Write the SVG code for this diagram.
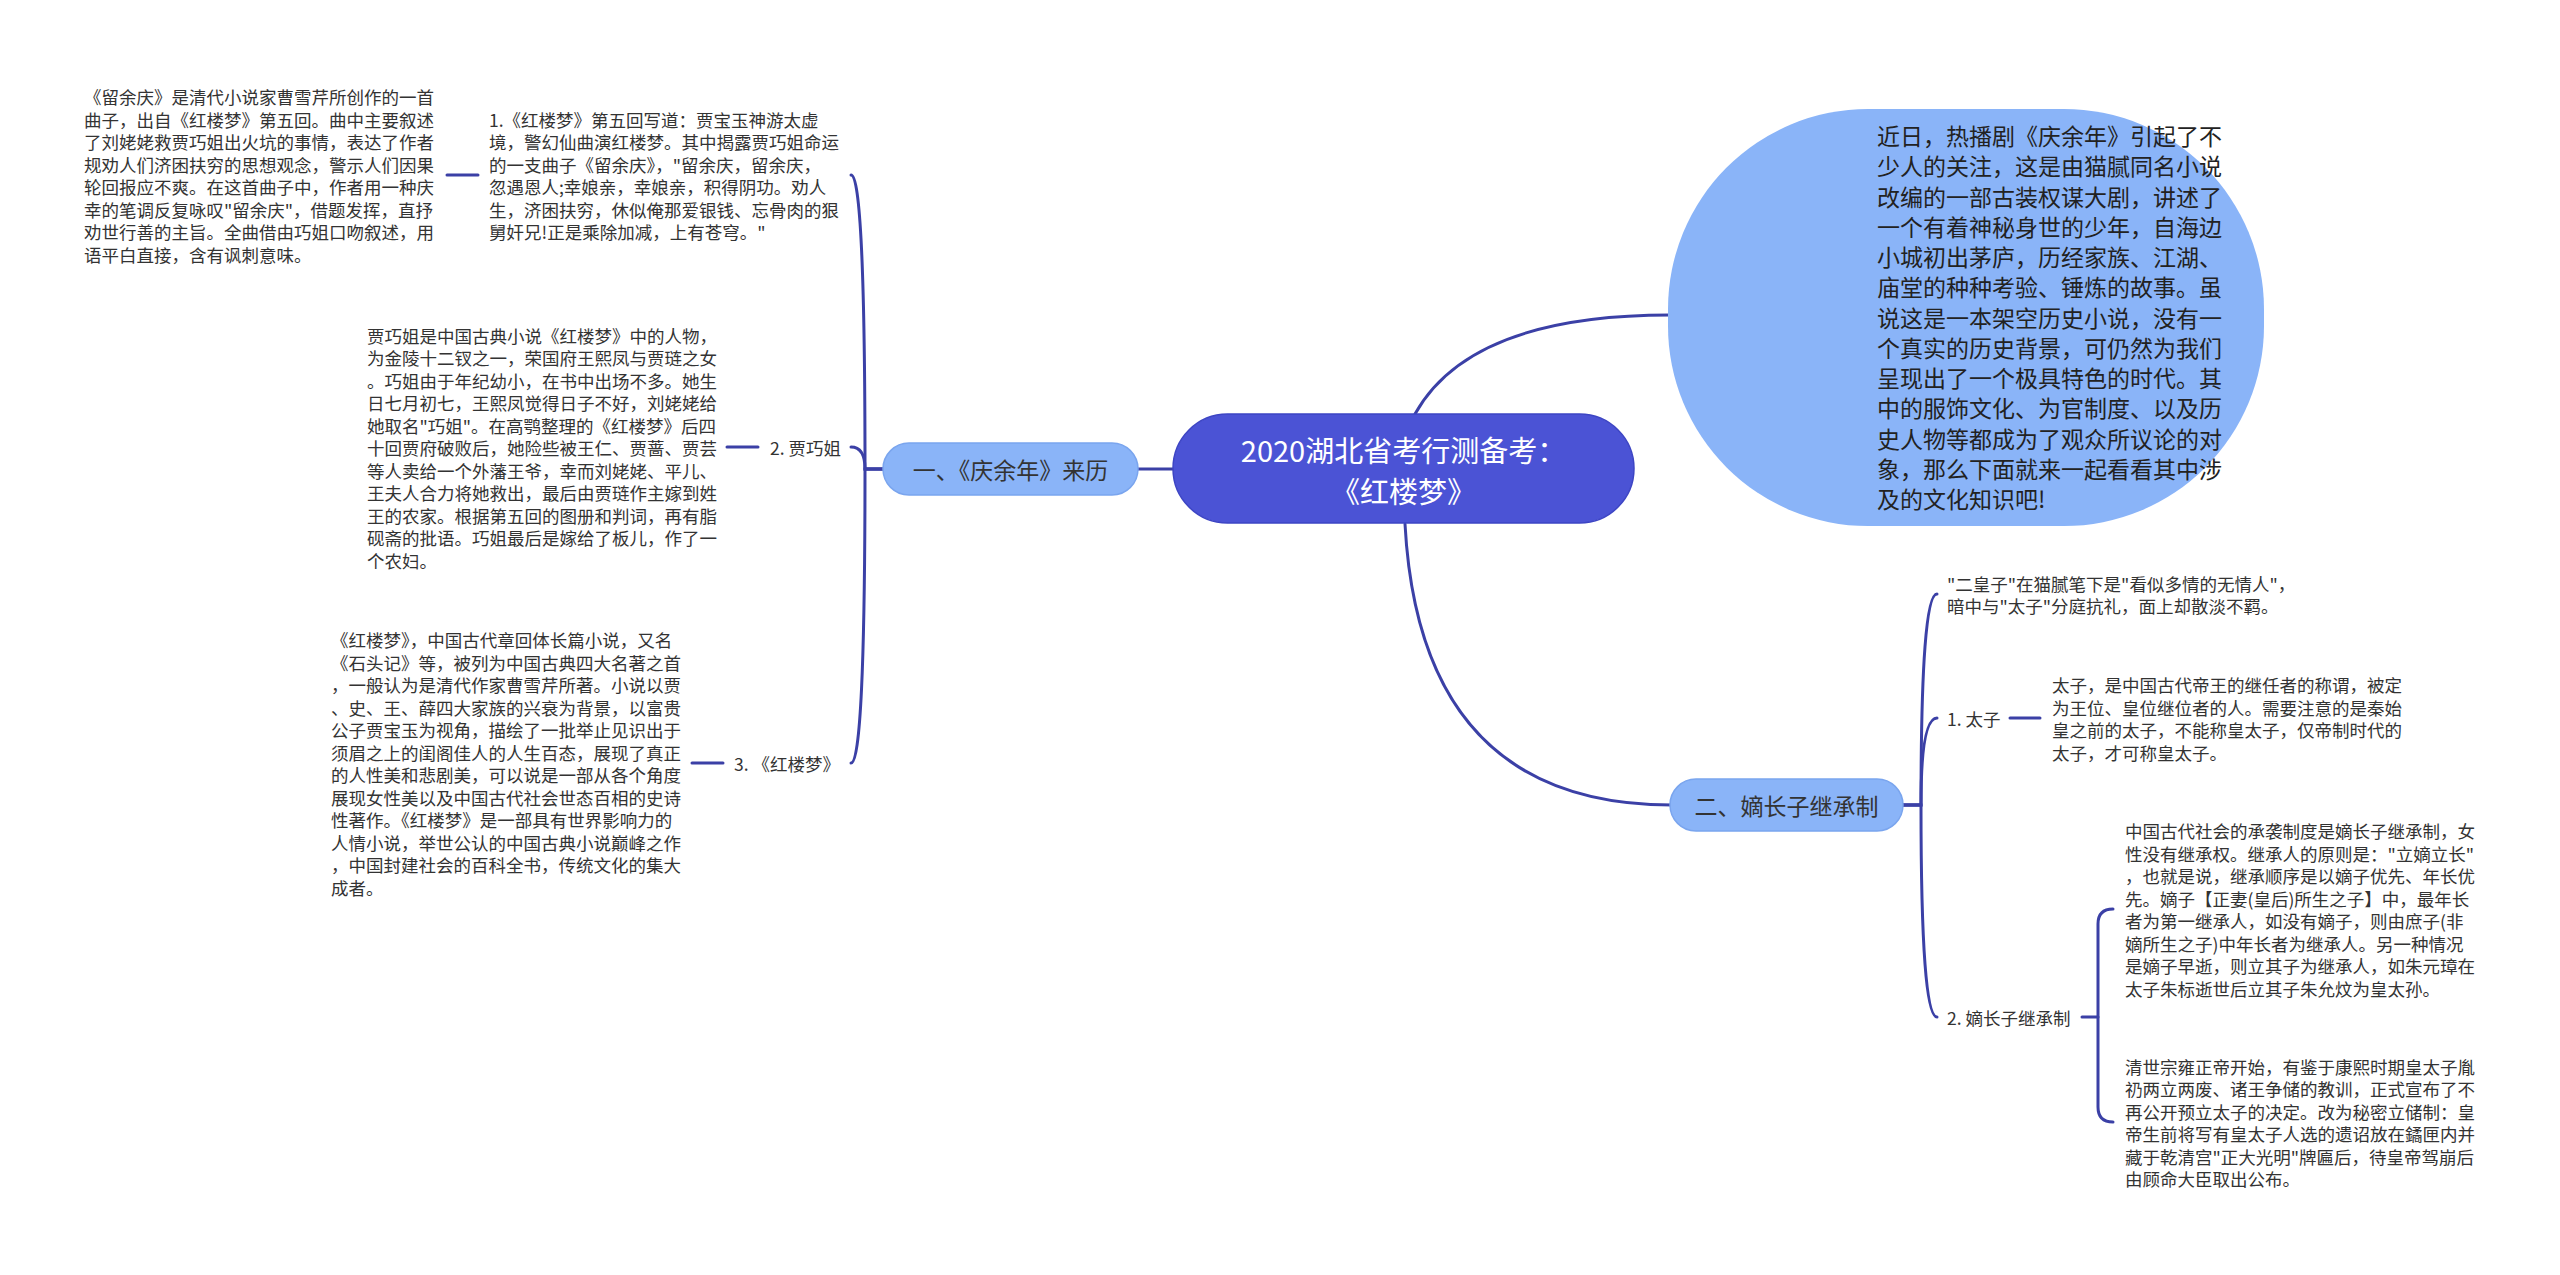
<svg xmlns="http://www.w3.org/2000/svg" width="2560" height="1275" viewBox="0 0 2560 1275">
<style>
text{font-family:"Noto Sans CJK SC","Liberation Sans",sans-serif;dominant-baseline:central;}
.d{font-size:17.5px;fill:#333;}
.root{fill:#4b53d5;stroke:#3d45c4;stroke-width:1.5;}
.rt{font-size:29px;fill:#fff;text-anchor:middle;}
.l1{fill:#8ab4f8;stroke:#7aa5ee;stroke-width:1.5;}
.l1t{font-size:23px;fill:#333;text-anchor:middle;}
.blob{fill:#8ab4f8;}
.bt{font-size:23px;fill:#222;}
.c{fill:none;stroke:#3b40a6;stroke-width:3;stroke-linecap:round;}
</style>
<rect width="2560" height="1275" fill="#fff"/>
<g id="connectors">
<path class="c" d="M1173 469 H1138"/>
<path class="c" d="M1415 414 Q1470 315 1670 315"/>
<path class="c" d="M1405 524 Q1420 805 1672 805"/>
<path class="c" d="M883 469 H865 Q865 175 851 175"/>
<path class="c" d="M883 469 H865 Q865 447 851 447"/>
<path class="c" d="M883 469 H865 Q865 763 851 763"/>
<path class="c" d="M447 175 H478"/>
<path class="c" d="M727 447 H758"/>
<path class="c" d="M692 763 H723"/>
<path class="c" d="M1903 805 H1921 Q1921 594 1937 594"/>
<path class="c" d="M1903 805 H1921 Q1921 718 1937 718"/>
<path class="c" d="M1903 805 H1921 Q1921 1017 1937 1017"/>
<path class="c" d="M2010 718 H2040"/>
<path class="c" d="M2082 1017 H2098"/>
<path class="c" d="M2113 909 Q2098 909 2098 924 V1107 Q2098 1122 2113 1122"/>
</g>
<g id="root">
<rect class="root" x="1173" y="414" width="461" height="109" rx="54.5"/>
<text class="rt" x="1403.5" y="449">2020湖北省考行测备考：</text>
<text class="rt" x="1403.5" y="490">《红楼梦》</text>
</g>
<g id="intro">
<rect class="blob" x="1668" y="109" width="596" height="417" rx="200" ry="200"/>
<text class="bt" x="1877">
<tspan x="1877" y="135">近日，热播剧《庆余年》引起了不</tspan>
<tspan x="1877" y="165.25">少人的关注，这是由猫腻同名小说</tspan>
<tspan x="1877" y="195.5">改编的一部古装权谋大剧，讲述了</tspan>
<tspan x="1877" y="225.75">一个有着神秘身世的少年，自海边</tspan>
<tspan x="1877" y="256">小城初出茅庐，历经家族、江湖、</tspan>
<tspan x="1877" y="286.25">庙堂的种种考验、锤炼的故事。虽</tspan>
<tspan x="1877" y="316.5">说这是一本架空历史小说，没有一</tspan>
<tspan x="1877" y="346.75">个真实的历史背景，可仍然为我们</tspan>
<tspan x="1877" y="377">呈现出了一个极具特色的时代。其</tspan>
<tspan x="1877" y="407.25">中的服饰文化、为官制度、以及历</tspan>
<tspan x="1877" y="437.5">史人物等都成为了观众所议论的对</tspan>
<tspan x="1877" y="467.75">象，那么下面就来一起看看其中涉</tspan>
<tspan x="1877" y="498">及的文化知识吧!</tspan>
</text>
</g>
<g id="b1">
<rect class="l1" x="883" y="443" width="255" height="52" rx="26"/>
<text class="l1t" x="1010.5" y="469">一、《庆余年》来历</text>
</g>
<g id="b1-1">
<text class="d">
<tspan x="489" y="118.75">1.《红楼梦》第五回写道：贾宝玉神游太虚</tspan>
<tspan x="489" y="141.25">境，警幻仙曲演红楼梦。其中揭露贾巧姐命运</tspan>
<tspan x="489" y="163.75">的一支曲子《留余庆》，"留余庆，留余庆，</tspan>
<tspan x="489" y="186.25">忽遇恩人;幸娘亲，幸娘亲，积得阴功。劝人</tspan>
<tspan x="489" y="208.75">生，济困扶穷，休似俺那爱银钱、忘骨肉的狠</tspan>
<tspan x="489" y="231.25">舅奸兄!正是乘除加减，上有苍穹。"</tspan>
</text>
</g>
<g id="b1-1-1">
<text class="d">
<tspan x="84" y="96.25">《留余庆》是清代小说家曹雪芹所创作的一首</tspan>
<tspan x="84" y="118.75">曲子，出自《红楼梦》第五回。曲中主要叙述</tspan>
<tspan x="84" y="141.25">了刘姥姥救贾巧姐出火坑的事情，表达了作者</tspan>
<tspan x="84" y="163.75">规劝人们济困扶穷的思想观念，警示人们因果</tspan>
<tspan x="84" y="186.25">轮回报应不爽。在这首曲子中，作者用一种庆</tspan>
<tspan x="84" y="208.75">幸的笔调反复咏叹"留余庆"，借题发挥，直抒</tspan>
<tspan x="84" y="231.25">劝世行善的主旨。全曲借由巧姐口吻叙述，用</tspan>
<tspan x="84" y="253.75">语平白直接，含有讽刺意味。</tspan>
</text>
</g>
<g id="b1-2">
<text class="d" x="770" y="447">2. 贾巧姐</text>
</g>
<g id="b1-2-1">
<text class="d">
<tspan x="367" y="334.5">贾巧姐是中国古典小说《红楼梦》中的人物，</tspan>
<tspan x="367" y="357">为金陵十二钗之一，荣国府王熙凤与贾琏之女</tspan>
<tspan x="367" y="379.5">。巧姐由于年纪幼小，在书中出场不多。她生</tspan>
<tspan x="367" y="402">日七月初七，王熙凤觉得日子不好，刘姥姥给</tspan>
<tspan x="367" y="424.5">她取名"巧姐"。在高鹗整理的《红楼梦》后四</tspan>
<tspan x="367" y="447">十回贾府破败后，她险些被王仁、贾蔷、贾芸</tspan>
<tspan x="367" y="469.5">等人卖给一个外藩王爷，幸而刘姥姥、平儿、</tspan>
<tspan x="367" y="492">王夫人合力将她救出，最后由贾琏作主嫁到姓</tspan>
<tspan x="367" y="514.5">王的农家。根据第五回的图册和判词，再有脂</tspan>
<tspan x="367" y="537">砚斋的批语。巧姐最后是嫁给了板儿，作了一</tspan>
<tspan x="367" y="559.5">个农妇。</tspan>
</text>
</g>
<g id="b1-3">
<text class="d" x="734" y="763">3. 《红楼梦》</text>
</g>
<g id="b1-3-1">
<text class="d">
<tspan x="331" y="639.25">《红楼梦》，中国古代章回体长篇小说，又名</tspan>
<tspan x="331" y="661.75">《石头记》等，被列为中国古典四大名著之首</tspan>
<tspan x="331" y="684.25">，一般认为是清代作家曹雪芹所著。小说以贾</tspan>
<tspan x="331" y="706.75">、史、王、薛四大家族的兴衰为背景，以富贵</tspan>
<tspan x="331" y="729.25">公子贾宝玉为视角，描绘了一批举止见识出于</tspan>
<tspan x="331" y="751.75">须眉之上的闺阁佳人的人生百态，展现了真正</tspan>
<tspan x="331" y="774.25">的人性美和悲剧美，可以说是一部从各个角度</tspan>
<tspan x="331" y="796.75">展现女性美以及中国古代社会世态百相的史诗</tspan>
<tspan x="331" y="819.25">性著作。《红楼梦》是一部具有世界影响力的</tspan>
<tspan x="331" y="841.75">人情小说，举世公认的中国古典小说巅峰之作</tspan>
<tspan x="331" y="864.25">，中国封建社会的百科全书，传统文化的集大</tspan>
<tspan x="331" y="886.75">成者。</tspan>
</text>
</g>
<g id="b2">
<rect class="l1" x="1670" y="779" width="233" height="52" rx="26"/>
<text class="l1t" x="1786.5" y="805">二、嫡长子继承制</text>
</g>
<g id="b2-0">
<text class="d">
<tspan x="1947" y="582.75">"二皇子"在猫腻笔下是"看似多情的无情人"，</tspan>
<tspan x="1947" y="605.25">暗中与"太子"分庭抗礼，面上却散淡不羁。</tspan>
</text>
</g>
<g id="b2-1">
<text class="d" x="1947" y="718">1. 太子</text>
</g>
<g id="b2-1-1">
<text class="d">
<tspan x="2052" y="684.25">太子，是中国古代帝王的继任者的称谓，被定</tspan>
<tspan x="2052" y="706.75">为王位、皇位继位者的人。需要注意的是秦始</tspan>
<tspan x="2052" y="729.25">皇之前的太子，不能称皇太子，仅帝制时代的</tspan>
<tspan x="2052" y="751.75">太子，才可称皇太子。</tspan>
</text>
</g>
<g id="b2-2">
<text class="d" x="1947" y="1017">2. 嫡长子继承制</text>
</g>
<g id="b2-2-1">
<text class="d">
<tspan x="2125" y="830">中国古代社会的承袭制度是嫡长子继承制，女</tspan>
<tspan x="2125" y="852.5">性没有继承权。继承人的原则是："立嫡立长"</tspan>
<tspan x="2125" y="875">，也就是说，继承顺序是以嫡子优先、年长优</tspan>
<tspan x="2125" y="897.5">先。嫡子【正妻(皇后)所生之子】中，最年长</tspan>
<tspan x="2125" y="920">者为第一继承人，如没有嫡子，则由庶子(非</tspan>
<tspan x="2125" y="942.5">嫡所生之子)中年长者为继承人。另一种情况</tspan>
<tspan x="2125" y="965">是嫡子早逝，则立其子为继承人，如朱元璋在</tspan>
<tspan x="2125" y="987.5">太子朱标逝世后立其子朱允炆为皇太孙。</tspan>
</text>
</g>
<g id="b2-2-2">
<text class="d">
<tspan x="2125" y="1065.75">清世宗雍正帝开始，有鉴于康熙时期皇太子胤</tspan>
<tspan x="2125" y="1088.25">礽两立两废、诸王争储的教训，正式宣布了不</tspan>
<tspan x="2125" y="1110.75">再公开预立太子的决定。改为秘密立储制：皇</tspan>
<tspan x="2125" y="1133.25">帝生前将写有皇太子人选的遗诏放在鐍匣内并</tspan>
<tspan x="2125" y="1155.75">藏于乾清宫"正大光明"牌匾后，待皇帝驾崩后</tspan>
<tspan x="2125" y="1178.25">由顾命大臣取出公布。</tspan>
</text>
</g>
</svg>
